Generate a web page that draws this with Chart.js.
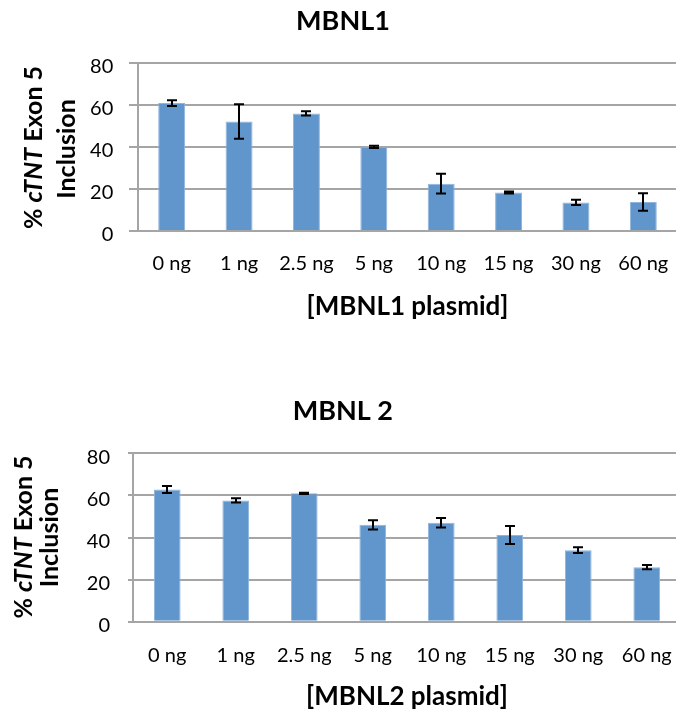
<!DOCTYPE html>
<html><head><meta charset="utf-8">
<script src="https://cdn.jsdelivr.net/npm/chart.js@4.4.1/dist/chart.umd.min.js"></script>
<style>
html,body{margin:0;padding:0;background:#fff;overflow:hidden;width:676px;height:713px;}
canvas{position:absolute;left:0;}
</style></head><body>
<canvas id="c1" width="677" height="322" style="top:0px"></canvas>
<canvas id="c2" width="681" height="322" style="top:390px"></canvas>
<script>
// ---- data ----
const categories = ['0 ng', '1 ng', '2.5 ng', '5 ng', '10 ng', '15 ng', '30 ng', '60 ng'];
const mbnl1Values = [60.8, 52, 55.9, 40, 22.5, 18.3, 13.6, 13.8];
const mbnl1Errors = [1.4, 8.2, 1.0, 0.5, 4.7, 0.5, 1.3, 4.2];
const mbnl2Values = [62.8, 57.6, 61.0, 46.0, 47.0, 41.2, 34.0, 25.9];
const mbnl2Errors = [1.7, 1.0, 0.3, 2.2, 2.3, 4.3, 1.4, 1.0];
const yTicks = [0, 20, 40, 60, 80];
const titles = ['MBNL1', 'MBNL 2'];
const xTitles = ['[MBNL1 plasmid]', '[MBNL2 plasmid]'];
const yTitleParts = [['% ', false], ['cTNT', true], [' Exon 5', false]];
const yTitleLine2 = 'Inclusion';

const FONT = 'Lato, "Open Sans", "DejaVu Sans", sans-serif';
Chart.defaults.font.family = FONT;
Chart.defaults.color = '#000';

const errorBars = {
  id: 'errorBars',
  afterDatasetsDraw(chart, args, opts) {
    const ctx = chart.ctx, ys = chart.scales.y;
    const ds = chart.data.datasets[0];
    const meta = chart.getDatasetMeta(0);
    ctx.save();
    ctx.strokeStyle = '#000';
    ctx.lineWidth = 2;
    meta.data.forEach((bar, i) => {
      const v = ds.data[i], e = ds.errors[i];
      const x = Math.round(bar.x);
      const t = ys.getPixelForValue(v + e), b = ys.getPixelForValue(v - e);
      const c = opts.cap;
      ctx.beginPath();
      ctx.moveTo(x, t); ctx.lineTo(x, b);
      ctx.moveTo(x - c, t); ctx.lineTo(x + c, t);
      ctx.moveTo(x - c, b); ctx.lineTo(x + c, b);
      ctx.stroke();
    });
    ctx.restore();
  }
};

const yTitle = {
  id: 'yTitle',
  afterDraw(chart, args, opts) {
    const ctx = chart.ctx;
    const size = opts.size;
    ctx.save();
    ctx.fillStyle = '#000';
    ctx.textBaseline = 'alphabetic';
    ctx.textAlign = 'left';
    const f = it => (it ? 'italic ' : '') + 'bold ' + size + 'px ' + FONT;
    let total = 0;
    yTitleParts.forEach(([t, it]) => { ctx.font = f(it); total += ctx.measureText(t).width; });
    ctx.save();
    ctx.translate(opts.x1, opts.cy1);
    ctx.rotate(-Math.PI / 2);
    let cx = -total / 2;
    yTitleParts.forEach(([t, it]) => { ctx.font = f(it); ctx.fillText(t, cx, 0); cx += ctx.measureText(t).width; });
    ctx.restore();
    ctx.save();
    ctx.translate(opts.x2, opts.cy2);
    ctx.rotate(-Math.PI / 2);
    ctx.font = f(false);
    ctx.textAlign = 'center';
    ctx.fillText(yTitleLine2, 0, 0);
    ctx.restore();
    ctx.restore();
  }
};

function makeChart(id, title, xTitle, values, errors, cfg) {
  return new Chart(document.getElementById(id), {
    type: 'bar',
    data: {
      labels: categories,
      datasets: [{
        data: values,
        errors: errors,
        backgroundColor: '#6096cc',
        borderColor: '#8fb4dd',
        borderWidth: 1,
        categoryPercentage: 1,
        barPercentage: cfg.barPct
      }]
    },
    plugins: [errorBars, yTitle],
    options: {
      responsive: false,
      animation: false,
      layout: { padding: { left: cfg.padLeft, right: 0, top: 0, bottom: 0 } },
      plugins: {
        legend: { display: false },
        tooltip: { enabled: false },
        title: {
          display: true, text: title, color: '#000',
          font: { size: 27, weight: 'bold' },
          padding: { top: 5, bottom: cfg.titleBottom }
        },
        errorBars: { cap: 5 },
        yTitle: cfg.yTitle
      },
      scales: {
        x: {
          type: 'category',
          offset: true,
          grid: { display: false, drawTicks: false },
          border: { display: true, color: '#a5a5a5', width: 2 },
          ticks: { padding: cfg.xPad, font: { size: 20 }, color: '#000', maxRotation: 0, autoSkip: false },
          title: { display: true, text: xTitle, color: '#000', font: { size: 26, weight: 'bold' }, padding: { top: 0, bottom: 0 } },
          afterFit(s) { s.height = cfg.xHeight; s.paddingLeft = 0; s.paddingRight = 0; }
        },
        y: {
          min: 0, max: 80,
          afterBuildTicks(s) { s.ticks = yTicks.map(v => ({ value: v })); },
          grid: { color: '#a5a5a5', lineWidth: 2, tickLength: cfg.tickLen, drawTicks: true },
          border: { display: true, color: '#a5a5a5', width: 2 },
          ticks: { padding: cfg.yPad, font: { size: 20 }, color: '#000', labelOffset: 4 },
          afterFit(s) { s.width = cfg.yWidth; }
        }
      }
    }
  });
}

makeChart('c1', titles[0], xTitles[0], mbnl1Values, mbnl1Errors, {
  barPct: 0.4, padLeft: 9, yWidth: 129, titleBottom: 25.3, xHeight: 91, xPad: 21,
  tickLen: 9, yPad: 15.7,
  yTitle: { size: 25, x1: 41.7, cy1: 147.5, x2: 75, cy2: 149 }
});
makeChart('c2', titles[1], xTitles[1], mbnl2Values, mbnl2Errors, {
  barPct: 0.39, padLeft: 4.7, yWidth: 128.3, titleBottom: 25.9, xHeight: 90.3, xPad: 22,
  tickLen: 5, yPad: 18,
  yTitle: { size: 25, x1: 31.7, cy1: 147, x2: 58.3, cy2: 147.5 }
});
</script>
</body></html>
